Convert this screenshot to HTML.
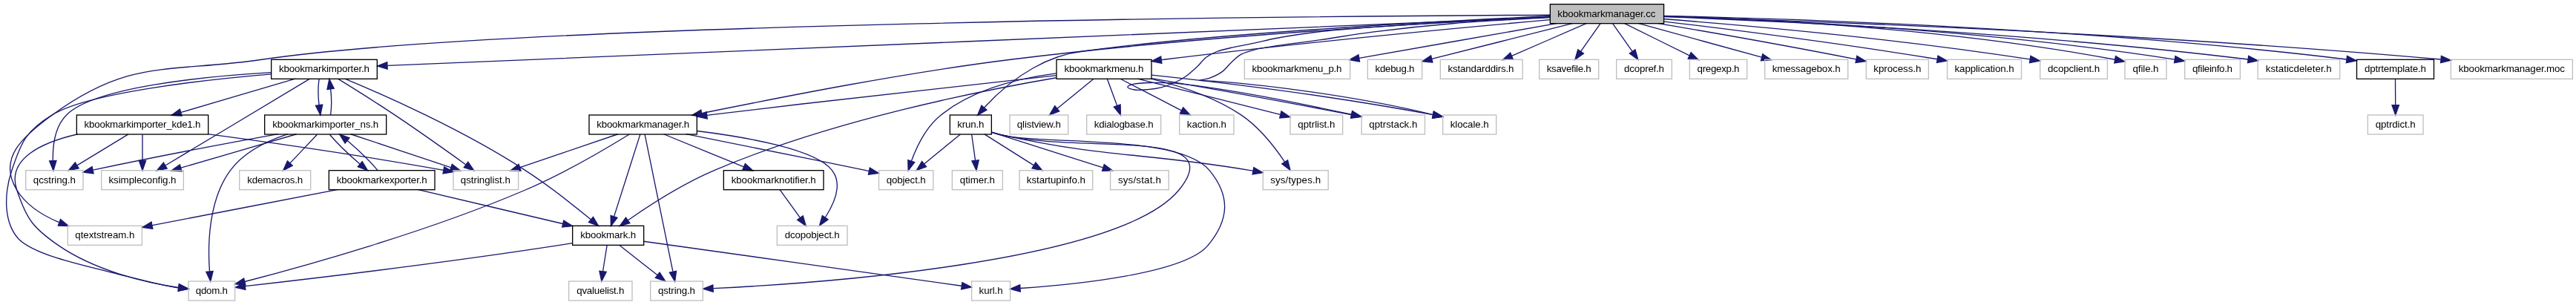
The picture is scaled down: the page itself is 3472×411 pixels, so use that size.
<!DOCTYPE html>
<html><head><meta charset="utf-8"><title>kbookmarkmanager.cc include graph</title><style>
html,body{margin:0;padding:0;background:#fff;overflow:hidden}
svg{display:block}
text{font-family:"Liberation Sans",sans-serif;font-size:13.33px;fill:#000}
.t{filter:grayscale(1)}
</style></head><body>
<svg width="3472" height="411" viewBox="0 0 3472 411">
<g fill="none" stroke="#191970" stroke-width="1.333">
<path d="M2088.85,23.23C1946.01,29.83 1629.13,47.05 1364.01,80.00 1209.81,99.16 1041.68,133.35 946.09,152.56"/>
<path d="M2089.19,26.61C1975.95,36.69 1756.57,57.15 1570.68,80.00 1568.97,80.21 1567.25,80.43 1565.52,80.64"/>
<path d="M2089.20,22.90C2070.45,23.83 2001.33,26.91 1960.00,29.30C1921.85,31.51 1882.53,34.15 1850.00,36.60C1824.03,38.56 1802.39,39.88 1780.00,42.50C1759.19,44.94 1736.29,48.46 1720.00,51.50C1708.68,53.61 1700.88,55.90 1691.40,57.90C1682.08,59.86 1672.46,61.38 1663.60,63.40C1655.38,65.27 1646.71,66.88 1640.00,69.50C1634.58,71.62 1630.32,73.76 1626.00,77.00C1621.40,80.46 1617.99,85.63 1613.40,89.90C1608.39,94.57 1602.46,100.06 1597.00,103.80C1592.26,107.04 1587.90,109.23 1582.80,111.50C1577.29,113.95 1571.02,116.28 1565.00,117.80C1559.09,119.29 1553.02,120.07 1547.00,120.60C1541.02,121.13 1533.93,121.90 1529.00,121.00C1525.34,120.33 1519.86,118.62 1519.80,117.30C1519.75,116.05 1524.17,114.28 1527.70,113.30C1533.79,111.61 1544.96,111.62 1554.00,111.40C1563.59,111.17 1573.80,111.87 1583.70,112.10C1660,120 1750,139 1821.5,154.2"/>
<path d="M2089.32,23.65C2070.56,24.69 2001.33,28.07 1960.00,31.50C1921.81,34.67 1882.50,38.93 1850.00,43.10C1824.00,46.44 1802.51,50.46 1780.00,53.70C1759.06,56.72 1735.63,59.48 1719.30,62.00C1708.20,63.71 1699.66,64.67 1691.40,66.80C1684.55,68.57 1678.30,70.28 1673.00,73.20C1668.26,75.81 1664.89,79.24 1660.80,82.90C1656.20,87.02 1652.10,93.15 1646.90,96.90C1641.81,100.57 1635.46,103.38 1630.00,105.30C1625.27,106.96 1620.80,107.30 1616.20,108.30C1700,112 1840,132 1931.5,154.6"/>
<path d="M2099.21,31.41C2026.95,44.15 1909.01,64.77 1831.87,78.36"/>
<path d="M2088.92,23.19C1805.67,34.97 819.74,76.07 522.27,88.44"/>
<path d="M2089.32,20.25C1790.67,21.60 697.40,29.92 354.68,80.00 225.53,98.87 176.27,77.96 70.68,154.67 30.36,183.96 -3.43,213.55 22.68,256.00 35.41,276.71 57.76,290.53 79.64,299.64"/>
<path d="M2120.13,31.41C2068.27,44.49 1983.49,65.88 1929.79,79.44"/>
<path d="M2089.13,21.5C1946,28.5 1629,45.5 1460,69C1415,74 1368,100 1326.75,144.69"/>
<path d="M2138.51,31.41C2111.47,43.25 2068.43,61.92 2037.55,75.40"/>
<path d="M2156.97,31.89C2149.81,42.05 2139.32,56.99 2130.57,69.41"/>
<path d="M2173.71,31.89C2180.87,42.05 2191.36,56.99 2200.11,69.41"/>
<path d="M2189.21,31.41C2212.68,43.09 2250.01,61.41 2277.13,74.85"/>
<path d="M2208.01,31.41C2252.74,43.79 2325.26,63.59 2374.47,77.16"/>
<path d="M2233.97,31.37C2299.31,42.40 2400.72,59.99 2501.44,79.84"/>
<path d="M2241.41,28.81C2328.09,39.13 2473.68,57.43 2611.15,79.76"/>
<path d="M2241.35,25.52C2349.02,33.85 2551.24,51.52 2736.18,79.95"/>
<path d="M2241.59,21.61C2366.87,25.35 2623.10,37.64 2850.55,80.24"/>
<path d="M2241.85,21.95C2378.47,26.28 2671.73,39.59 2930.97,80.07"/>
<path d="M2241.89,22.52C2391.46,28.03 2731.22,43.55 3030.08,80.00"/>
<path d="M2241.96,21.35C2408.01,24.95 2811.73,37.52 3162.68,79.99"/>
<path d="M2241.55,22.15C2421.33,27.63 2886.21,44.20 3289.56,80.00"/>
<path d="M869.11,181.23C876.25,216.07 897.20,318.39 906.93,365.89"/>
<path d="M832.87,180.75C797.32,192.85 740.68,212.08 700.89,225.63"/>
<path d="M924.80,180.71C985.02,192.61 1082.18,211.93 1165.93,229.33 1167.63,229.73 1169.35,230.15 1171.11,230.57"/>
<path d="M848.21,180.95C819.20,198.83 760.81,233.41 708.01,256.00 574.41,313.15 408.16,359.20 329.95,379.48"/>
<path d="M939.63,176.53C1006.69,184.84 1099.00,201.11 1121.35,229.33 1135.93,247.76 1124.43,274.17 1112.32,292.99"/>
<path d="M862.91,180.84C855.45,204.61 837.80,259.60 827.65,291.64"/>
<path d="M894.56,180.75C923.65,192.64 969.55,211.41 1002.53,224.91"/>
<path d="M834.67,330.24C848.40,341.09 869.41,357.55 885.93,370.55"/>
<path d="M771.65,327.61C765.22,328.68 758.72,329.73 752.51,330.67 598.18,354.44 414.20,376.13 330.56,385.61"/>
<path d="M818.13,330.56C816.56,340.09 814.45,353.81 812.57,365.75"/>
<path d="M867.68,325.25C967.43,339.35 1204.32,372.24 1296.03,385.24"/>
<path d="M1051.27,255.89C1058.60,266.05 1069.39,280.99 1078.36,293.41"/>
<path d="M1424.00,101.57C1324.44,112.39 1126.45,134.21 958.68,154.67 956.72,154.91 954.76,155.15 952.76,155.39"/>
<path d="M1423.55,98.92C1376.20,105.00 1312.89,119.60 1268.60,154.67 1248.33,170.60 1235.51,197.52 1228.29,217.15"/>
<path d="M1423.75,104.72C1322.85,121.93 1122.05,161.87 963.18,229.33 920.06,247.69 874.36,277.28 846.51,296.69"/>
<path d="M1551.03,106.08C1588.47,115.01 1635.84,130.15 1672.45,154.67 1697.11,171.25 1718.29,198.41 1731.41,217.91"/>
<path d="M1533.21,106.08C1585.73,119.24 1671.58,140.83 1725.56,154.36"/>
<path d="M1552.39,105.67C1619.66,117.25 1727.80,136.35 1820.91,154.67 1821.35,154.69 1821.78,154.72 1822.21,154.75"/>
<path d="M1474.08,106.24C1460.82,116.99 1440.92,133.23 1425.01,146.17"/>
<path d="M1492.41,106.56C1495.99,116.20 1501.13,130.12 1505.59,142.13"/>
<path d="M1552.15,101.12C1636.63,110.04 1788.81,127.85 1931.35,154.65"/>
<path d="M1510.07,106.24C1532.33,117.73 1566.59,135.52 1592.29,148.81"/>
<path d="M455.39,106.13C474.79,118.01 505.53,137.27 531.66,154.67 565.25,177.13 603.10,204.09 627.95,221.92"/>
<path d="M365.45,99.89C272.82,107.75 119.16,124.92 70.68,154.67 35.61,176.17 28.79,190.24 16.01,229.33C5,262 5,300 25,322C45,342 100,355 150,367C190,377 215,384 241,388"/>
<path d="M464.87,106.07C515.54,127.12 624.08,174.97 707.66,229.33 739.77,250.04 774.10,277.44 796.36,295.84"/>
<path d="M365.27,97.69C275.35,103.03 127.87,117.35 89.83,154.67 73.96,170.37 70.93,196.56 71.31,216.04"/>
<path d="M417.62,106.17C375.68,131.45 274.40,192.00 223.27,222.75"/>
<path d="M397.89,106.08C356.42,118.35 289.92,137.92 244.03,151.48"/>
<path d="M430.09,106.56C428.64,116.09 428.63,129.81 430.07,141.75"/>
<path d="M280.04,180.71C359.68,191.33 480.10,208.35 597.80,229.37"/>
<path d="M104.83,180.77C56.44,191.92 8.57,213.71 22.68,256.00 35.79,295.35 44.56,307.08 78.68,330.67 127.76,364.60 196.04,381.05 240.45,387.49"/>
<path d="M172.95,180.91C154.43,192.13 126.01,209.37 104.27,222.57"/>
<path d="M192.01,181.23C192.01,190.65 192.01,204.19 192.01,216.01"/>
<path d="M472.69,180.75C509.13,192.85 566.80,212.08 607.49,225.63"/>
<path d="M388.19,180.69C361.04,189.45 329.39,204.41 310.68,229.33 280.56,269.44 279.96,331.16 282.48,365.47"/>
<path d="M445.52,155.00C446.98,145.52 447.02,131.81 445.61,119.87"/>
<path d="M374.63,180.69C313.79,191.67 219.43,209.20 125.31,229.15"/>
<path d="M399.59,180.75C357.55,193.01 290.49,212.59 244.03,226.15"/>
<path d="M427.44,181.23C417.55,191.71 402.87,207.24 390.92,219.89"/>
<path d="M444.33,181.23C453.45,192.03 470.08,208.17 485.04,221.03"/>
<path d="M562.84,255.41C615.88,267.89 700.80,287.92 758.49,301.51"/>
<path d="M509.11,229.56C499.99,218.73 483.27,202.47 468.23,189.57"/>
<path d="M455.52,255.41C387.28,268.57 275.51,290.12 205.29,303.67"/>
<path d="M1336.65,178.19C1340.67,179.31 1344.77,180.39 1348.68,181.33 1457.17,208.37 1659.77,169.65 1589.02,256.00 1509.15,353.44 1103.66,381.67 961.45,388.64"/>
<path d="M1294.41,180.91C1281.31,191.65 1261.59,207.89 1245.85,220.84"/>
<path d="M1336.63,178.29C1339.93,179.40 1343.30,180.44 1346.50,181.33 1408.49,195.93 1589.07,180.24 1629.98,229.33 1658.44,263.72 1657.19,295.75 1628.13,330.67 1596.23,369.05 1447.49,383.63 1374.96,388.49"/>
<path d="M1336.61,178.39C1340.43,179.47 1344.34,180.49 1348.08,181.33 1495.31,213.76 1535.12,204.48 1683.82,229.33 1685.41,229.61 1687.04,229.91 1688.68,230.21"/>
<path d="M1336.47,178.16C1373.64,190.03 1440.77,211.28 1486.53,225.84"/>
<path d="M1309.67,181.23C1311.05,190.76 1312.91,204.48 1314.57,216.41"/>
<path d="M1326.97,180.91C1344.74,192.13 1372.18,209.37 1393.11,222.57"/>
<path d="M3228.48,106.56C3228.55,115.99 3228.61,129.52 3228.68,141.35"/>
</g>
<g fill="#191970" stroke="#191970" stroke-width="1.333">
<polygon points="946.60,157.21 932.60,155.28 944.75,148.07 946.60,157.21"/>
<polygon points="1565.88,85.31 1552.05,82.43 1564.67,76.05 1565.88,85.31"/>
<polygon points="1822.61,149.63 1834.60,157.09 1820.57,158.75 1822.61,149.63"/>
<polygon points="1932.51,150.01 1944.56,157.37 1930.55,159.15 1932.51,150.01"/>
<polygon points="1832.56,82.97 1818.63,80.64 1830.97,73.77 1832.56,82.97"/>
<polygon points="522.18,93.12 508.66,89.01 521.79,83.79 522.18,93.12"/>
<polygon points="81.59,295.39 92.40,304.47 78.28,304.11 81.59,295.39"/>
<polygon points="1930.91,83.97 1916.84,82.71 1928.63,74.92 1930.91,83.97"/>
<polygon points="1329.93,148.15 1317.64,155.11 1322.91,142.00 1329.93,148.15"/>
<polygon points="2039.31,79.72 2025.21,80.64 2035.66,71.13 2039.31,79.72"/>
<polygon points="2134.37,72.12 2122.88,80.33 2126.75,66.75 2134.37,72.12"/>
<polygon points="2203.93,66.75 2207.80,80.33 2196.31,72.12 2203.93,66.75"/>
<polygon points="2279.23,70.68 2289.24,80.64 2275.20,79.11 2279.23,70.68"/>
<polygon points="2375.82,72.69 2387.50,80.64 2373.41,81.71 2375.82,72.69"/>
<polygon points="2502.83,75.36 2515.00,82.53 2501.01,84.52 2502.83,75.36"/>
<polygon points="2611.97,75.17 2624.37,81.93 2610.47,84.37 2611.97,75.17"/>
<polygon points="2736.97,75.35 2749.43,82.01 2735.54,84.57 2736.97,75.35"/>
<polygon points="2851.53,75.67 2863.74,82.75 2849.77,84.84 2851.53,75.67"/>
<polygon points="2931.99,75.51 2944.43,82.20 2930.52,84.72 2931.99,75.51"/>
<polygon points="3030.68,75.37 3043.35,81.64 3029.53,84.63 3030.68,75.37"/>
<polygon points="3163.51,75.39 3176.17,81.64 3162.36,84.65 3163.51,75.39"/>
<polygon points="3290.41,75.39 3303.28,81.23 3289.59,84.69 3290.41,75.39"/>
<polygon points="911.56,365.24 909.67,379.24 902.41,367.12 911.56,365.24"/>
<polygon points="702.11,230.13 687.99,229.97 699.12,221.29 702.11,230.13"/>
<polygon points="1172.35,226.07 1184.43,233.39 1170.43,235.20 1172.35,226.07"/>
<polygon points="330.91,384.05 316.84,382.85 328.59,375.01 330.91,384.05"/>
<polygon points="1116.00,295.85 1104.53,304.09 1108.36,290.49 1116.00,295.85"/>
<polygon points="832.00,293.32 823.43,304.55 823.13,290.43 832.00,293.32"/>
<polygon points="1004.35,220.61 1014.92,229.97 1000.81,229.25 1004.35,220.61"/>
<polygon points="889.03,367.05 896.73,378.89 883.33,374.44 889.03,367.05"/>
<polygon points="330.88,390.28 317.11,387.15 329.83,381.00 330.88,390.28"/>
<polygon points="817.20,366.37 810.85,379.00 807.93,365.17 817.20,366.37"/>
<polygon points="1296.88,380.65 1309.45,387.08 1295.61,389.89 1296.88,380.65"/>
<polygon points="1082.23,290.79 1086.25,304.33 1074.65,296.25 1082.23,290.79"/>
<polygon points="953.29,160.03 939.48,157.05 952.13,150.77 953.29,160.03"/>
<polygon points="1232.70,218.63 1224.15,229.88 1223.82,215.76 1232.70,218.63"/>
<polygon points="848.88,300.72 835.29,304.56 843.52,293.08 848.88,300.72"/>
<polygon points="1735.57,215.72 1739.04,229.43 1727.79,220.88 1735.57,215.72"/>
<polygon points="1727.01,149.91 1738.80,157.69 1724.73,158.96 1727.01,149.91"/>
<polygon points="1822.89,150.12 1835.03,157.35 1821.04,159.27 1822.89,150.12"/>
<polygon points="1427.76,149.96 1414.52,154.89 1421.79,142.77 1427.76,149.96"/>
<polygon points="1510.09,140.88 1510.35,155.00 1501.35,144.12 1510.09,140.88"/>
<polygon points="1932.39,150.11 1944.60,157.20 1930.63,159.27 1932.39,150.11"/>
<polygon points="1594.69,144.80 1604.33,155.13 1590.36,153.07 1594.69,144.80"/>
<polygon points="630.80,218.23 638.80,229.87 625.29,225.76 630.80,218.23"/>
<polygon points="241.39,382.90 253.99,389.30 240.15,392.15 241.39,382.90"/>
<polygon points="799.48,292.36 806.60,304.56 793.43,299.45 799.48,292.36"/>
<polygon points="75.99,216.37 71.93,229.91 66.67,216.80 75.99,216.37"/>
<polygon points="225.12,227.08 211.27,229.88 220.35,219.05 225.12,227.08"/>
<polygon points="245.01,156.05 230.91,155.31 242.40,147.09 245.01,156.05"/>
<polygon points="434.69,141.16 431.83,155.00 425.44,142.40 434.69,141.16"/>
<polygon points="598.69,224.79 610.99,231.76 597.03,233.97 598.69,224.79"/>
<polygon points="241.39,382.90 253.99,389.30 240.15,392.15 241.39,382.90"/>
<polygon points="106.17,226.87 92.36,229.80 101.33,218.89 106.17,226.87"/>
<polygon points="196.68,216.33 192.01,229.67 187.35,216.33 196.68,216.33"/>
<polygon points="609.33,221.32 620.48,229.97 606.36,230.16 609.33,221.32"/>
<polygon points="287.16,365.41 283.75,379.12 277.87,366.28 287.16,365.41"/>
<polygon points="440.97,120.39 443.86,106.56 450.22,119.17 440.97,120.39"/>
<polygon points="126.04,233.77 112.03,231.99 124.09,224.64 126.04,233.77"/>
<polygon points="245.01,230.72 230.91,229.97 242.40,221.76 245.01,230.72"/>
<polygon points="394.24,223.17 381.69,229.67 387.45,216.77 394.24,223.17"/>
<polygon points="488.20,217.57 495.52,229.67 482.27,224.77 488.20,217.57"/>
<polygon points="759.83,297.03 771.73,304.64 757.68,306.11 759.83,297.03"/>
<polygon points="465.03,192.99 457.71,180.91 470.96,185.79 465.03,192.99"/>
<polygon points="205.81,308.32 191.84,306.27 204.05,299.16 205.81,308.32"/>
<polygon points="961.28,393.32 947.75,389.28 960.84,384.00 961.28,393.32"/>
<polygon points="1248.59,224.63 1235.35,229.56 1242.62,217.44 1248.59,224.63"/>
<polygon points="1375.25,393.16 1361.65,389.35 1374.65,383.84 1375.25,393.16"/>
<polygon points="1689.79,225.67 1702.09,232.61 1688.15,234.85 1689.79,225.67"/>
<polygon points="1488.25,221.49 1499.59,229.93 1485.47,230.40 1488.25,221.49"/>
<polygon points="1319.21,215.89 1316.04,229.67 1309.93,216.93 1319.21,215.89"/>
<polygon points="1395.88,218.80 1404.75,229.80 1390.96,226.73 1395.88,218.80"/>
<polygon points="3233.35,141.67 3228.68,155.00 3224.01,141.67 3233.35,141.67"/>
</g>
<rect x="2089.35" y="5.67" width="153.20" height="26.00" fill="#bfbfbf" stroke="#000" stroke-width="1.333"/>
<rect x="794.01" y="155.00" width="145.33" height="26.00" fill="none" stroke="#000" stroke-width="1.333"/>
<rect x="1424.01" y="80.33" width="128.00" height="26.00" fill="none" stroke="#000" stroke-width="1.333"/>
<rect x="1835.15" y="155.00" width="85.33" height="26.00" fill="none" stroke="#bfbfbf" stroke-width="1.333"/>
<rect x="1944.68" y="155.00" width="72.00" height="26.00" fill="none" stroke="#bfbfbf" stroke-width="1.333"/>
<rect x="1677.35" y="80.33" width="142.33" height="26.00" fill="none" stroke="#bfbfbf" stroke-width="1.333"/>
<rect x="365.65" y="80.33" width="142.67" height="26.00" fill="none" stroke="#000" stroke-width="1.333"/>
<rect x="91.35" y="304.33" width="100.00" height="26.00" fill="none" stroke="#bfbfbf" stroke-width="1.333"/>
<rect x="1843.35" y="80.33" width="73.33" height="26.00" fill="none" stroke="#bfbfbf" stroke-width="1.333"/>
<rect x="1280.35" y="155.00" width="56.00" height="26.00" fill="none" stroke="#000" stroke-width="1.333"/>
<rect x="1941.35" y="80.33" width="110.83" height="26.00" fill="none" stroke="#bfbfbf" stroke-width="1.333"/>
<rect x="2074.68" y="80.33" width="80.00" height="26.00" fill="none" stroke="#bfbfbf" stroke-width="1.333"/>
<rect x="2178.68" y="80.33" width="74.67" height="26.00" fill="none" stroke="#bfbfbf" stroke-width="1.333"/>
<rect x="2277.35" y="80.33" width="77.33" height="26.00" fill="none" stroke="#bfbfbf" stroke-width="1.333"/>
<rect x="2378.68" y="80.33" width="112.00" height="26.00" fill="none" stroke="#bfbfbf" stroke-width="1.333"/>
<rect x="2515.35" y="80.33" width="84.00" height="26.00" fill="none" stroke="#bfbfbf" stroke-width="1.333"/>
<rect x="2624.55" y="80.33" width="100.00" height="26.00" fill="none" stroke="#bfbfbf" stroke-width="1.333"/>
<rect x="2749.71" y="80.33" width="90.67" height="26.00" fill="none" stroke="#bfbfbf" stroke-width="1.333"/>
<rect x="2863.98" y="80.33" width="56.00" height="26.00" fill="none" stroke="#bfbfbf" stroke-width="1.333"/>
<rect x="2944.68" y="80.33" width="74.67" height="26.00" fill="none" stroke="#bfbfbf" stroke-width="1.333"/>
<rect x="3043.05" y="80.33" width="110.63" height="26.00" fill="none" stroke="#bfbfbf" stroke-width="1.333"/>
<rect x="3176.48" y="80.33" width="104.00" height="26.00" fill="none" stroke="#000" stroke-width="1.333"/>
<rect x="3303.35" y="80.33" width="164.00" height="26.00" fill="none" stroke="#bfbfbf" stroke-width="1.333"/>
<rect x="876.68" y="379.00" width="70.67" height="26.00" fill="none" stroke="#bfbfbf" stroke-width="1.333"/>
<rect x="611.01" y="229.67" width="87.67" height="26.00" fill="none" stroke="#bfbfbf" stroke-width="1.333"/>
<rect x="1184.51" y="229.67" width="73.33" height="26.00" fill="none" stroke="#bfbfbf" stroke-width="1.333"/>
<rect x="254.01" y="379.00" width="62.67" height="26.00" fill="none" stroke="#bfbfbf" stroke-width="1.333"/>
<rect x="1047.35" y="304.33" width="94.67" height="26.00" fill="none" stroke="#bfbfbf" stroke-width="1.333"/>
<rect x="771.68" y="304.33" width="96.00" height="26.00" fill="none" stroke="#000" stroke-width="1.333"/>
<rect x="975.35" y="229.67" width="134.67" height="26.00" fill="none" stroke="#000" stroke-width="1.333"/>
<rect x="766.68" y="379.00" width="85.33" height="26.00" fill="none" stroke="#bfbfbf" stroke-width="1.333"/>
<rect x="1309.61" y="379.00" width="52.00" height="26.00" fill="none" stroke="#bfbfbf" stroke-width="1.333"/>
<rect x="1702.21" y="229.67" width="88.00" height="26.00" fill="none" stroke="#bfbfbf" stroke-width="1.333"/>
<rect x="1739.01" y="155.00" width="70.67" height="26.00" fill="none" stroke="#bfbfbf" stroke-width="1.333"/>
<rect x="1361.01" y="155.00" width="78.67" height="26.00" fill="none" stroke="#bfbfbf" stroke-width="1.333"/>
<rect x="1464.68" y="155.00" width="100.00" height="26.00" fill="none" stroke="#bfbfbf" stroke-width="1.333"/>
<rect x="1589.68" y="155.00" width="73.33" height="26.00" fill="none" stroke="#bfbfbf" stroke-width="1.333"/>
<rect x="34.68" y="229.67" width="77.33" height="26.00" fill="none" stroke="#bfbfbf" stroke-width="1.333"/>
<rect x="136.68" y="229.67" width="110.67" height="26.00" fill="none" stroke="#bfbfbf" stroke-width="1.333"/>
<rect x="103.35" y="155.00" width="177.33" height="26.00" fill="none" stroke="#000" stroke-width="1.333"/>
<rect x="356.68" y="155.00" width="164.00" height="26.00" fill="none" stroke="#000" stroke-width="1.333"/>
<rect x="322.68" y="229.67" width="96.00" height="26.00" fill="none" stroke="#bfbfbf" stroke-width="1.333"/>
<rect x="443.35" y="229.67" width="142.67" height="26.00" fill="none" stroke="#000" stroke-width="1.333"/>
<rect x="1496.55" y="229.67" width="78.67" height="26.00" fill="none" stroke="#bfbfbf" stroke-width="1.333"/>
<rect x="1283.35" y="229.67" width="68.00" height="26.00" fill="none" stroke="#bfbfbf" stroke-width="1.333"/>
<rect x="1374.01" y="229.67" width="98.67" height="26.00" fill="none" stroke="#bfbfbf" stroke-width="1.333"/>
<rect x="3191.35" y="155.00" width="74.67" height="26.00" fill="none" stroke="#bfbfbf" stroke-width="1.333"/>
<g class="t">
<text x="2165.35" y="22.52" text-anchor="middle" textLength="132.0" lengthAdjust="spacing">kbookmarkmanager.cc</text>
<text x="866.68" y="171.85" text-anchor="middle" textLength="125.0" lengthAdjust="spacing">kbookmarkmanager.h</text>
<text x="1488.01" y="97.18" text-anchor="middle" textLength="107.0" lengthAdjust="spacing">kbookmarkmenu.h</text>
<text x="1877.81" y="171.85" text-anchor="middle" textLength="65.0" lengthAdjust="spacing">qptrstack.h</text>
<text x="1980.68" y="171.85" text-anchor="middle" textLength="52.0" lengthAdjust="spacing">klocale.h</text>
<text x="1748.01" y="97.18" text-anchor="middle" textLength="121.0" lengthAdjust="spacing">kbookmarkmenu_p.h</text>
<text x="436.98" y="97.18" text-anchor="middle" textLength="122.0" lengthAdjust="spacing">kbookmarkimporter.h</text>
<text x="141.35" y="321.18" text-anchor="middle" textLength="80.0" lengthAdjust="spacing">qtextstream.h</text>
<text x="1880.01" y="97.18" text-anchor="middle" textLength="53.0" lengthAdjust="spacing">kdebug.h</text>
<text x="1308.35" y="171.85" text-anchor="middle" textLength="36.0" lengthAdjust="spacing">krun.h</text>
<text x="1996.01" y="97.18" text-anchor="middle" textLength="89.0" lengthAdjust="spacing">kstandarddirs.h</text>
<text x="2114.68" y="97.18" text-anchor="middle" textLength="60.0" lengthAdjust="spacing">ksavefile.h</text>
<text x="2216.01" y="97.18" text-anchor="middle" textLength="54.0" lengthAdjust="spacing">dcopref.h</text>
<text x="2316.01" y="97.18" text-anchor="middle" textLength="57.0" lengthAdjust="spacing">qregexp.h</text>
<text x="2434.68" y="97.18" text-anchor="middle" textLength="92.0" lengthAdjust="spacing">kmessagebox.h</text>
<text x="2557.35" y="97.18" text-anchor="middle" textLength="64.0" lengthAdjust="spacing">kprocess.h</text>
<text x="2674.55" y="97.18" text-anchor="middle" textLength="80.0" lengthAdjust="spacing">kapplication.h</text>
<text x="2795.05" y="97.18" text-anchor="middle" textLength="70.0" lengthAdjust="spacing">dcopclient.h</text>
<text x="2891.98" y="97.18" text-anchor="middle" textLength="35.0" lengthAdjust="spacing">qfile.h</text>
<text x="2982.01" y="97.18" text-anchor="middle" textLength="54.0" lengthAdjust="spacing">qfileinfo.h</text>
<text x="3098.21" y="97.18" text-anchor="middle" textLength="89.0" lengthAdjust="spacing">kstaticdeleter.h</text>
<text x="3228.48" y="97.18" text-anchor="middle" textLength="83.0" lengthAdjust="spacing">dptrtemplate.h</text>
<text x="3385.35" y="97.18" text-anchor="middle" textLength="143.0" lengthAdjust="spacing">kbookmarkmanager.moc</text>
<text x="912.01" y="395.85" text-anchor="middle" textLength="50.0" lengthAdjust="spacing">qstring.h</text>
<text x="654.35" y="246.52" text-anchor="middle" textLength="67.0" lengthAdjust="spacing">qstringlist.h</text>
<text x="1221.18" y="246.52" text-anchor="middle" textLength="53.0" lengthAdjust="spacing">qobject.h</text>
<text x="285.35" y="395.85" text-anchor="middle" textLength="43.0" lengthAdjust="spacing">qdom.h</text>
<text x="1094.68" y="321.18" text-anchor="middle" textLength="74.0" lengthAdjust="spacing">dcopobject.h</text>
<text x="819.68" y="321.18" text-anchor="middle" textLength="75.0" lengthAdjust="spacing">kbookmark.h</text>
<text x="1042.68" y="246.52" text-anchor="middle" textLength="114.0" lengthAdjust="spacing">kbookmarknotifier.h</text>
<text x="809.35" y="395.85" text-anchor="middle" textLength="64.3" lengthAdjust="spacing">qvaluelist.h</text>
<text x="1335.61" y="395.85" text-anchor="middle" textLength="32.0" lengthAdjust="spacing">kurl.h</text>
<text x="1746.21" y="246.52" text-anchor="middle" textLength="68.0" lengthAdjust="spacing">sys/types.h</text>
<text x="1774.35" y="171.85" text-anchor="middle" textLength="50.0" lengthAdjust="spacing">qptrlist.h</text>
<text x="1400.35" y="171.85" text-anchor="middle" textLength="59.0" lengthAdjust="spacing">qlistview.h</text>
<text x="1514.68" y="171.85" text-anchor="middle" textLength="80.0" lengthAdjust="spacing">kdialogbase.h</text>
<text x="1626.35" y="171.85" text-anchor="middle" textLength="53.0" lengthAdjust="spacing">kaction.h</text>
<text x="73.35" y="246.52" text-anchor="middle" textLength="57.0" lengthAdjust="spacing">qcstring.h</text>
<text x="192.01" y="246.52" text-anchor="middle" textLength="91.0" lengthAdjust="spacing">ksimpleconfig.h</text>
<text x="192.01" y="171.85" text-anchor="middle" textLength="157.0" lengthAdjust="spacing">kbookmarkimporter_kde1.h</text>
<text x="438.68" y="171.85" text-anchor="middle" textLength="143.0" lengthAdjust="spacing">kbookmarkimporter_ns.h</text>
<text x="370.68" y="246.52" text-anchor="middle" textLength="75.0" lengthAdjust="spacing">kdemacros.h</text>
<text x="514.68" y="246.52" text-anchor="middle" textLength="122.0" lengthAdjust="spacing">kbookmarkexporter.h</text>
<text x="1535.88" y="246.52" text-anchor="middle" textLength="58.0" lengthAdjust="spacing">sys/stat.h</text>
<text x="1317.35" y="246.52" text-anchor="middle" textLength="47.0" lengthAdjust="spacing">qtimer.h</text>
<text x="1423.35" y="246.52" text-anchor="middle" textLength="79.0" lengthAdjust="spacing">kstartupinfo.h</text>
<text x="3228.68" y="171.85" text-anchor="middle" textLength="54.0" lengthAdjust="spacing">qptrdict.h</text>
</g>
</svg>
</body></html>
